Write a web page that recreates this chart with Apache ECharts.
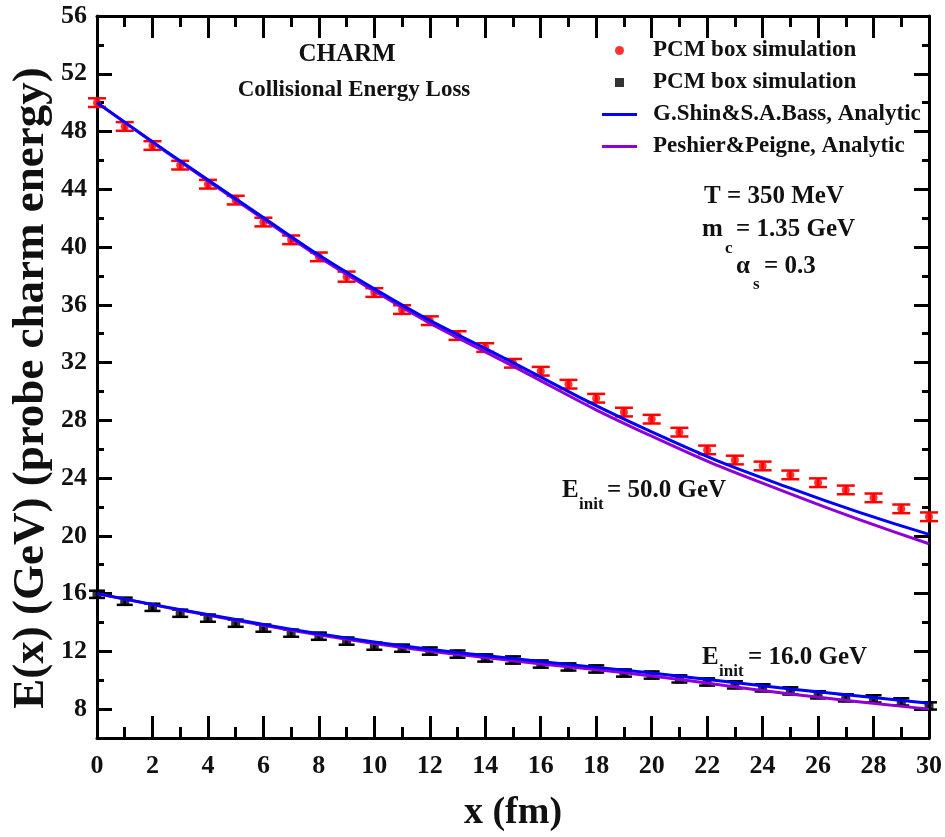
<!DOCTYPE html>
<html>
<head>
<meta charset="utf-8">
<script src="https://cdn.jsdelivr.net/npm/echarts@6/dist/echarts.min.js"></script>
<style>
html,body{margin:0;padding:0;background:#fff;}
#chart{width:945px;height:837px;}
</style>
</head>
<body>
<div id="chart"></div>
<script>
// ---------- data ----------
const xPoints = [0,1,2,3,4,5,6,7,8,9,10,11,12,13,14,15,16,17,18,19,20,21,22,23,24,25,26,27,28,29,30];
const pcm50 = [50.0,48.35,47.03,45.67,44.35,43.25,41.73,40.5,39.32,37.95,36.85,35.67,34.9,33.87,33.04,31.95,31.4,30.5,29.53,28.57,28.08,27.18,25.95,25.25,24.84,24.22,23.68,23.18,22.63,21.87,21.32];
const pcm50Err = [0.3,0.3,0.3,0.3,0.3,0.3,0.3,0.3,0.3,0.35,0.3,0.3,0.3,0.3,0.3,0.3,0.3,0.3,0.3,0.3,0.3,0.3,0.3,0.3,0.3,0.3,0.3,0.3,0.3,0.3,0.3];
const pcm16 = [15.95,15.47,15.05,14.64,14.3,13.95,13.61,13.26,13.05,12.71,12.36,12.22,12.02,11.81,11.54,11.4,11.12,10.92,10.78,10.5,10.36,10.09,9.88,9.68,9.47,9.26,8.99,8.78,8.71,8.5,8.22];
const pcm16Err = [0.25,0.25,0.25,0.25,0.25,0.25,0.25,0.25,0.25,0.25,0.25,0.25,0.25,0.25,0.25,0.25,0.25,0.25,0.25,0.25,0.25,0.25,0.25,0.25,0.25,0.25,0.25,0.25,0.25,0.25,0.25];
const lineX = [0,5,10,15,20,25,30];
const shin50 = [50.0,43.35,37.1,32.0,27.2,23.3,20.1];
const peshier50 = [50.0,43.25,36.95,31.75,26.9,22.9,19.45];
const shin16 = [16.0,14.2,12.65,11.5,10.5,9.4,8.4];
const peshier16 = [16.0,14.15,12.55,11.35,10.3,9.05,8.0];
const yMajorTicks = [8,12,16,20,24,28,32,36,40,44,48,52,56];
const yMinorTicks = [10,14,18,22,26,30,34,38,42,46,50,54];
const legendNames = ['PCM box simulation','PCM box simulation ','G.Shin&S.A.Bass, Analytic','Peshier&Peigne, Analytic'];

// ---------- helpers ----------
const FONT = 'Liberation Serif';
const TXT = '#111';
const pairs = (xs, ys) => xs.map((x, i) => [x, ys[i]]);
const triples = (xs, ys, es) => xs.map((x, i) => [x, ys[i], es[i]]);

function errBar(color, hw) {
  return function (params, api) {
    const x = api.value(0), y = api.value(1), e = api.value(2);
    const t = api.coord([x, y + e]);
    const b = api.coord([x, y - e]);
    const st = { stroke: color, lineWidth: 2.5 };
    return {
      type: 'group',
      children: [
        { type: 'line', shape: { x1: t[0], y1: t[1], x2: b[0], y2: b[1] }, style: st },
        { type: 'line', shape: { x1: t[0] - hw, y1: t[1], x2: t[0] + hw, y2: t[1] }, style: st },
        { type: 'line', shape: { x1: b[0] - hw, y1: b[1], x2: b[0] + hw, y2: b[1] }, style: st }
      ]
    };
  };
}

const axisLineStyle = { color: '#000', width: 3 };
const tickStyle = { color: '#000', width: 3 };

function xAx(pos, showLabel) {
  return {
    type: 'value', min: 0, max: 30, interval: 2, position: pos,
    axisLine: { show: true, lineStyle: axisLineStyle },
    axisTick: { show: true, inside: true, length: 22, lineStyle: tickStyle },
    minorTick: { show: true, splitNumber: 2, length: 11, lineStyle: tickStyle },
    splitLine: { show: false }, minorSplitLine: { show: false },
    axisLabel: { show: showLabel, margin: 15, fontFamily: FONT, fontWeight: 'bold', fontSize: 26, color: TXT },
    name: showLabel ? 'x (fm)' : '',
    nameLocation: 'middle', nameGap: 56,
    nameTextStyle: { fontFamily: FONT, fontWeight: 'bold', fontSize: 38, color: TXT }
  };
}
function yAx(pos, ticks, len, showLabel, showLine) {
  return {
    type: 'value', min: 6, max: 56, position: pos,
    axisLine: { show: showLine, lineStyle: axisLineStyle },
    axisTick: { show: true, inside: true, length: len, lineStyle: tickStyle, customValues: ticks },
    splitLine: { show: false },
    axisLabel: { show: showLabel, customValues: ticks, margin: 10, fontFamily: FONT, fontWeight: 'bold', fontSize: 26, color: TXT }
  };
}

function txt(x, y, s, size, align) {
  return { type: 'text', x: x, y: y, z: 100,
    style: { text: s, fontFamily: FONT, fontWeight: 'bold', fontSize: size, fill: TXT,
      textAlign: align || 'left', textVerticalAlign: 'middle' } };
}

const chart = echarts.init(document.getElementById('chart'), null, { renderer: 'canvas' });
chart.setOption({
  animation: false,
  backgroundColor: '#fff',
  grid: { left: 97, right: 14, top: 16, bottom: 95, containLabel: false },
  xAxis: [xAx('bottom', true), xAx('top', false)],
  yAxis: [
    yAx('left', yMajorTicks, 15, true, true),
    yAx('left', yMinorTicks, 7, false, false),
    yAx('right', yMajorTicks, 15, false, true),
    yAx('right', yMinorTicks, 7, false, false)
  ],
  legend: {
    orient: 'vertical', left: 597, top: 34, itemWidth: 35, itemHeight: 9, itemGap: 9,
    selectedMode: false, symbolKeepAspect: true,
    textStyle: { fontFamily: FONT, fontWeight: 'bold', fontSize: 23, color: TXT, padding: [0, 0, 0, 11] },
    data: [
      { name: legendNames[0], icon: 'circle' },
      { name: legendNames[1], icon: 'path://M0,0H10V10H0Z' },
      { name: legendNames[2], icon: 'path://M0,0H35V3H0Z' },
      { name: legendNames[3], icon: 'path://M0,0H35V3H0Z' }
    ]
  },
  series: [
    { type: 'custom', name: 'err50', renderItem: errBar('#ff0000', 9), data: triples(xPoints, pcm50, pcm50Err), encode: { x: 0, y: 1 }, z: 3 },
    { type: 'scatter', name: legendNames[0], symbol: 'circle', symbolSize: 8, itemStyle: { color: '#ff0000' }, data: pairs(xPoints, pcm50), z: 4 },
    { type: 'custom', name: 'err16', renderItem: errBar('#000000', 8), data: triples(xPoints, pcm16, pcm16Err), encode: { x: 0, y: 1 }, z: 3 },
    { type: 'scatter', name: legendNames[1], symbol: 'rect', symbolSize: 9, itemStyle: { color: '#000000' }, data: pairs(xPoints, pcm16), z: 4 },
    { type: 'line', name: legendNames[3], smooth: true, showSymbol: false, data: pairs(lineX, peshier50), itemStyle: { color: '#8f00d6' }, lineStyle: { color: '#8f00d6', width: 3 }, z: 5 },
    { type: 'line', name: legendNames[3], smooth: true, showSymbol: false, data: pairs(lineX, peshier16), itemStyle: { color: '#8f00d6' }, lineStyle: { color: '#8f00d6', width: 3 }, z: 5 },
    { type: 'line', name: legendNames[2], smooth: true, showSymbol: false, data: pairs(lineX, shin50), itemStyle: { color: '#0000ff' }, lineStyle: { color: '#0000ff', width: 3 }, z: 6 },
    { type: 'line', name: legendNames[2], smooth: true, showSymbol: false, data: pairs(lineX, shin16), itemStyle: { color: '#0000ff' }, lineStyle: { color: '#0000ff', width: 3 }, z: 6 }
  ],
  graphic: [
    { type: 'text', x: 31, y: 388, rotation: Math.PI / 2, z: 100,
      style: { text: 'E(x) (GeV) (probe charm energy)', fontFamily: FONT, fontWeight: 'bold', fontSize: 45, fill: TXT,
        textAlign: 'center', textVerticalAlign: 'middle' } },
    txt(347, 55, 'CHARM', 25, 'center'),
    txt(354, 90, 'Collisional Energy Loss', 23, 'center'),
    txt(774, 197, 'T = 350 MeV', 25, 'center'),
    txt(702, 230, 'm', 25), txt(725, 249, 'c', 17), txt(736, 230, '= 1.35 GeV', 25),
    txt(736, 267, 'α', 25), txt(753, 285, 's', 17), txt(764, 267, '= 0.3', 25),
    txt(562, 491, 'E', 25), txt(579, 505, 'init', 17), txt(607, 491, '= 50.0 GeV', 25),
    txt(702, 658, 'E', 25), txt(719, 672, 'init', 17), txt(748, 658, '= 16.0 GeV', 25)
  ]
});
</script>
</body>
</html>
